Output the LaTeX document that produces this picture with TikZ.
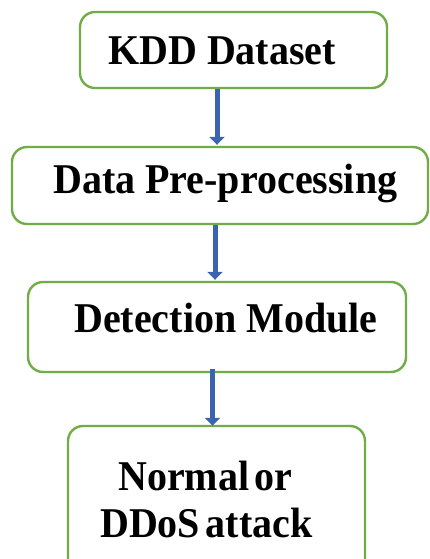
\documentclass[tikz,border=0pt]{standalone}
\usepackage{fontspec}
\setmainfont{Liberation Serif}
\usetikzlibrary{arrows.meta}
\definecolor{boxgreen}{RGB}{112,173,71}
\definecolor{arrowblue}{RGB}{59,100,176}
\tikzset{
  stagebox/.style={draw=boxgreen, line width=2.4pt, rounded corners=15pt, fill=white, inner sep=0pt},
  lbl/.style={anchor=base west, inner sep=0pt, yscale=1.06, transform shape,
    font=\fontsize{40}{46}\selectfont\bfseries},
  flow/.style={draw=arrowblue, line width=5pt, -{Triangle[width=15pt,length=8pt]}, arrowblue},
}
\begin{document}
\begin{tikzpicture}[x=1pt,y=-1pt]
  \clip (0,0) rectangle (430,559);
  \fill[white] (0,0) rectangle (430,559);

  % stage boxes
  \node[stagebox, minimum width=307pt, minimum height=76pt] (b1) at (233.5,50) {};
  \node[stagebox, minimum width=416pt, minimum height=77pt] (b2) at (220,185.5) {};
  \node[stagebox, minimum width=378pt, minimum height=90pt] (b3) at (217,327) {};
  \node[stagebox, minimum width=297pt, minimum height=150pt] (b4) at (216.5,501) {};

  % labels
  \node[lbl] (t1) at (108,65) {KDD Dataset};
  \node[lbl] (t2) at (53,193) {Data Pre-processing};
  \node[lbl] (t3) at (74,332) {Detection Module};
  \node[lbl] (t4) at (118,490) {Normal\hspace{0.14em}or};
  \node[lbl] (t5) at (100,537) {DDoS\hspace{0.14em}attack};

  % arrow columns
  \coordinate (c1) at (217,0);
  \coordinate (c2) at (215,0);
  \coordinate (c3) at (212.5,0);

  % connectors
  \draw[flow] (b1.south -| c1) -- ([yshift=1pt]b2.north -| c1);
  \draw[flow] (b2.south -| c2) -- ([yshift=1pt]b3.north -| c2);
  \draw[flow] ([yshift=4pt]b3.south -| c3) -- ([yshift=-1pt]b4.north -| c3);
\end{tikzpicture}
\end{document}
